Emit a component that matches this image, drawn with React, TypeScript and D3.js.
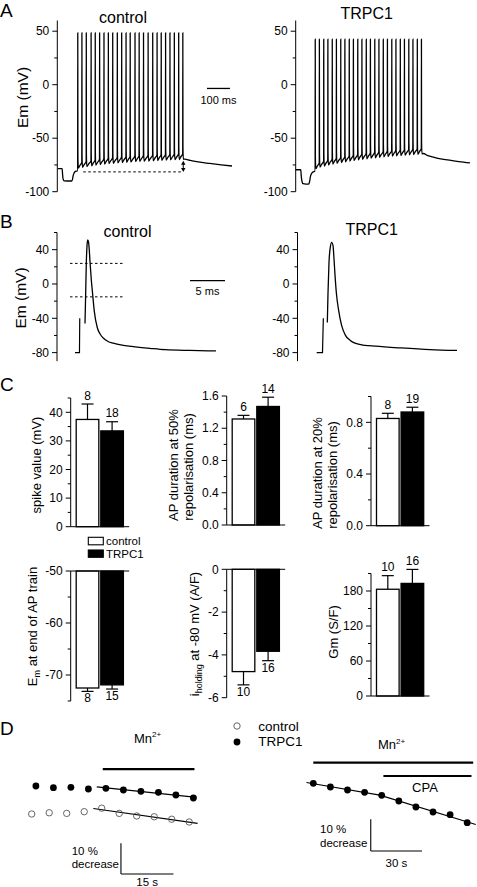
import React from 'react';
import * as d3 from 'd3';

const FONT = "'Liberation Sans', Arial, Helvetica, sans-serif";

// ---------------- Panel A: AP trains (time ms, Em mV) ----------------
const aCtlPre: [number, number][] = [[0, -78.5], [18, -78.5], [20, -84], [22, -88], [26, -89.8], [60, -90], [63, -88.5], [66, -85], [70, -82.5], [76, -81], [84, -80.5]];
const aCtlSpikeTimes = [86, 104, 123, 144, 162, 181, 200, 219, 238, 258, 277, 296, 314, 335, 353, 372, 392, 412, 431, 449, 468, 487, 506, 525, 543];
const aCtlPeak = 48.5;
const aCtlTroughs = [-78, -77.2, -76.5, -75.8, -75.2, -74.7, -74.2, -73.8, -73.4, -73.1, -72.8, -72.5, -72.2, -71.9, -71.7, -71.5, -71.3, -71.1, -70.9, -70.7, -70.5, -70.3, -70.1, -69.9, -69.7];
const aCtlPost: [number, number][] = [[551, -69.5], [575, -70.8], [610, -72.2], [660, -73.6], [710, -74.9], [757, -76]];

const aTrpPre: [number, number][] = [[0, -79.5], [22, -79.5], [24, -85], [27, -90], [32, -92.5], [56, -93], [60, -91], [64, -86], [69, -83], [76, -81.5], [83, -81]];
const aTrpSpikeTimes = [85, 103, 122, 140, 159, 177, 196, 214, 233, 251, 270, 288, 307, 325, 344, 362, 381, 399, 418, 436, 455, 473, 492, 510, 529, 547];
const aTrpPeak = 42.5;
const aTrpTroughs = [-78.5, -77, -76, -75, -74.2, -73.4, -72.7, -72, -71.4, -70.8, -70.2, -69.7, -69.2, -68.7, -68.3, -67.9, -67.5, -67.1, -66.8, -66.5, -66.2, -65.9, -65.6, -65.3, -65, -64.7];
const aTrpPost: [number, number][] = [[555, -64.3], [575, -66.3], [610, -68.3], [660, -70.3], [710, -71.8], [758, -73]];

const aMajorTicks = [-100, -50, 0, 50];
const aMinorTicks = [-75, -25, 25];
const aDashLevel = -81.5; // dashed reference line
const aDashRange = [110, 545];
const aArrowTop = -71;

// ---------------- Panel B: single AP (time ms, Em mV) ----------------
const bCtlStim: [number, number][] = [[2.57, -80], [3.21, -80], [3.25, -40]];
const bCtlAP: [number, number][] = [[4.0, -46], [4.1, -10], [4.19, 25], [4.29, 45], [4.39, 51.5], [4.5, 49], [4.61, 40], [4.71, 26.5], [4.9, 5], [5.1, -12.5], [5.33, -32], [5.76, -51], [6.14, -58], [6.61, -63], [7.29, -67], [8.04, -69], [9.29, -71.2], [10.67, -72.7], [13.29, -75], [15.43, -76.6], [19.0, -77.5], [22.71, -78]];
const bTrpStim: [number, number][] = [[2.74, -80], [3.57, -80], [3.69, -40]];
const bTrpAP: [number, number][] = [[4.26, -45], [4.36, -10], [4.5, 25], [4.69, 43], [4.89, 48.5], [5.07, 45], [5.21, 30], [5.36, 10], [5.57, -12], [5.86, -30], [6.29, -48], [6.79, -59], [7.5, -65.5], [8.21, -69], [9.64, -71.5], [11.07, -72.5], [14.64, -74.5], [18.93, -76.5], [22.79, -77.5]];
const bMajorTicks = [-80, -40, 0, 40];
const bMinorTicks = [-60, -20, 20, 60];
const bDashLevels = [24, -15];
const bDashRange = [1.86, 9.43];

// ---------------- Panel C: bar charts ----------------
const groups = ['control', 'TRPC1'];
const spikeMean = [37.5, 33.5];
const spikeErr = [5.4, 3.2];
const spikeN = [8, 18];
const ap50Mean = [1.315, 1.47];
const ap50Err = [0.045, 0.115];
const ap50N = [6, 14];
const ap20Mean = [0.83, 0.88];
const ap20Err = [0.04, 0.037];
const ap20N = [8, 19];
const emMean = [-72.5, -71.9];
const emErr = [0.65, 0.8];
const emN = [8, 15];
const ihMean = [-4.78, -3.83];
const ihErr = [0.62, 0.44];
const ihN = [10, 16];
const gmMean = [183, 193];
const gmErr = [23.3, 24];
const gmN = [10, 16];

// ---------------- Panel D: fluorescence quench (time s, % of initial) ----------------
const dCtlTimes = [0, 5, 10, 15, 20, 25, 30, 35, 40, 45];
const dCtlVals = [100, 100.4, 100.2, 100.75, 101.9, 100.2, 99.35, 99.1, 98.3, 97.4];
const dTrpTimes = [1.2, 6.2, 11.2, 16.2, 21.2, 26.2, 31.2, 36.2, 41.2, 46.2];
const dTrpVals = [100, 99.45, 99.58, 99.02, 99.25, 98.7, 98.27, 97.95, 97.07, 96.09];
const dMnFirst = 4;
const dCpaTimes = [0, 10, 20, 30, 40, 50, 60, 70, 80, 90];
const dCpaVals = [100, 98.83, 97.89, 97.16, 96.21, 94.42, 92.52, 90.95, 90.09, 87.57];
const dCpaKneeIdx = 4;

type Pt = [number, number];

function buildTrain(pre: Pt[], times: number[], peak: number, troughs: number[], post: Pt[]): Pt[] {
  const pts: Pt[] = pre.map((p) => [p[0], p[1]] as Pt);
  let thr = pre[pre.length - 1][1];
  times.forEach((t, i) => {
    const tr = troughs[i];
    pts.push([t - 0.5, thr]);
    pts.push([t, peak]);
    pts.push([t + 0.6, tr + 12]);
    pts.push([t + 2.2, tr]);
    const next = times[i + 1];
    if (next !== undefined) {
      pts.push([t + (next - t) * 0.5, tr + 2.5]);
      thr = tr + 5.5;
    }
  });
  return pts.concat(post);
}

function fit(ts: number[], vs: number[]) {
  const mt = d3.mean(ts) as number;
  const mv = d3.mean(vs) as number;
  let sxy = 0, sxx = 0;
  ts.forEach((t, i) => { sxy += (t - mt) * (vs[i] - mv); sxx += (t - mt) * (t - mt); });
  const slope = sxy / sxx;
  return { slope, at: (t: number) => mv + slope * (t - mt), mt, mv };
}

const fmtInt = (v: number) => String(v);
const fmt1 = (v: number) => v.toFixed(1);

function YAxis(props: { x: number; y: d3.ScaleLinear<number, number>; y0: number; y1: number; major: number[]; minor: number[]; fmt: (v: number) => string; fs?: number }) {
  const { x, y, y0, y1, major, minor, fmt } = props;
  const fs = props.fs ?? 12;
  return (
    <g>
      <line x1={x} x2={x} y1={y(y0)} y2={y(y1)} stroke="#000" strokeWidth={1} />
      {major.map((v) => (
        <g key={'M' + v}>
          <line x1={x - 5} x2={x} y1={y(v)} y2={y(v)} stroke="#000" strokeWidth={1} />
          <text x={x - 8} y={y(v)} dy="0.35em" textAnchor="end" fontSize={fs}>{fmt(v)}</text>
        </g>
      ))}
      {minor.map((v) => (
        <line key={'m' + v} x1={x - 3} x2={x} y1={y(v)} y2={y(v)} stroke="#000" strokeWidth={1} />
      ))}
    </g>
  );
}

function RotLabel({ x, cy, children, fs = 13 }: { x: number; cy: number; children: React.ReactNode; fs?: number }) {
  return (
    <text x={x} y={cy} transform={`rotate(-90 ${x} ${cy})`} textAnchor="middle" fontSize={fs}>{children}</text>
  );
}

function BarPanel(props: {
  axisX: number; y: d3.ScaleLinear<number, number>; d0: number; d1: number; base: number;
  major: number[]; minor: number[]; fmt: (v: number) => string;
  means: number[]; errs: number[]; ns: number[];
}) {
  const { axisX, y, d0, d1, base, major, minor, fmt, means, errs, ns } = props;
  const xb = d3.scaleBand<string>().domain(groups).range([axisX + 5.5, axisX + 52.7]).paddingInner(0.08);
  const bw = xb.bandwidth();
  return (
    <g>
      {groups.map((g, i) => {
        const m = means[i];
        const dir = m >= base ? 1 : -1;
        const e = m + dir * errs[i];
        const cx = (xb(g) as number) + bw / 2;
        const top = Math.min(y(base), y(m));
        const h = Math.abs(y(base) - y(m));
        return (
          <g key={g}>
            <line x1={cx} x2={cx} y1={y(m)} y2={y(e)} stroke="#000" strokeWidth={1.2} />
            <line x1={cx - 6} x2={cx + 6} y1={y(e)} y2={y(e)} stroke="#000" strokeWidth={1.2} />
            <rect x={xb(g)} y={top} width={bw} height={h} fill={i === 0 ? '#fff' : '#000'} stroke="#000" strokeWidth={1.3} />
            <text x={cx} y={dir > 0 ? y(e) - 4.5 : y(e) + 11} textAnchor="middle" fontSize={12}>{ns[i]}</text>
          </g>
        );
      })}
      <line x1={axisX} x2={axisX + 58.5} y1={y(base)} y2={y(base)} stroke="#000" strokeWidth={1} />
      <YAxis x={axisX} y={y} y0={d0} y1={d1} major={major} minor={minor} fmt={fmt} />
    </g>
  );
}

export default function App() {
  // Panel A scales
  const aY = d3.scaleLinear().domain([-100, 60]).range([191.7, 20.5]);
  const aXc = d3.scaleLinear().domain([0, 760]).range([58, 232.7]);
  const aXt = d3.scaleLinear().domain([0, 760]).range([295.7, 470.4]);
  const lineC = d3.line<Pt>().x((d) => aXc(d[0])).y((d) => aY(d[1])).curve(d3.curveMonotoneX);
  const lineT = d3.line<Pt>().x((d) => aXt(d[0])).y((d) => aY(d[1])).curve(d3.curveMonotoneX);
  const ctlTrain = buildTrain(aCtlPre, aCtlSpikeTimes, aCtlPeak, aCtlTroughs, aCtlPost);
  const trpTrain = buildTrain(aTrpPre, aTrpSpikeTimes, aTrpPeak, aTrpTroughs, aTrpPost);

  // Panel B scales
  const bY = d3.scaleLinear().domain([-90, 60]).range([361.2, 232.5]);
  const bXc = d3.scaleLinear().domain([0, 23]).range([57, 218]);
  const bXt = d3.scaleLinear().domain([0, 23]).range([297.5, 458.5]);
  const bLineC = d3.line<Pt>().x((d) => bXc(d[0])).y((d) => bY(d[1])).curve(d3.curveMonotoneX);
  const bLineT = d3.line<Pt>().x((d) => bXt(d[0])).y((d) => bY(d[1])).curve(d3.curveMonotoneX);
  const bLinC = d3.line<Pt>().x((d) => bXc(d[0])).y((d) => bY(d[1]));
  const bLinT = d3.line<Pt>().x((d) => bXt(d[0])).y((d) => bY(d[1]));

  // Panel C scales
  const c1Y = d3.scaleLinear().domain([0, 45]).range([526.7, 398]);
  const c2Y = d3.scaleLinear().domain([0, 1.6]).range([525, 396]);
  const c3Y = d3.scaleLinear().domain([0, 1.0]).range([525.7, 396.5]);
  const c4Y = d3.scaleLinear().domain([-75, -50]).range([701, 571]);
  const c5Y = d3.scaleLinear().domain([-6, 0]).range([697.7, 569.3]);
  const c6Y = d3.scaleLinear().domain([0, 210]).range([696, 573.5]);

  // Panel D scales
  const dLx = d3.scaleLinear().domain([0, 50]).range([31.7, 206.7]);
  const dLyT = d3.scaleLinear().domain([100, 90]).range([786, 816.7]);
  const dLyC = d3.scaleLinear().domain([100, 90]).range([814, 844.7]);
  const dRx = d3.scaleLinear().domain([0, 100]).range([313.3, 484.3]);
  const dRy = d3.scaleLinear().domain([100, 90]).range([783.3, 815]);

  const fitT = fit(dTrpTimes.slice(dMnFirst), dTrpVals.slice(dMnFirst));
  const fitC = fit(dCtlTimes.slice(dMnFirst), dCtlVals.slice(dMnFirst));
  const fitR1 = fit(dCpaTimes.slice(0, dCpaKneeIdx + 1), dCpaVals.slice(0, dCpaKneeIdx + 1));
  const fitR2 = fit(dCpaTimes.slice(dCpaKneeIdx), dCpaVals.slice(dCpaKneeIdx));
  const knee = (fitR2.mv - fitR2.slope * fitR2.mt - (fitR1.mv - fitR1.slope * fitR1.mt)) / (fitR1.slope - fitR2.slope);

  const tri = 'M0,0 L-2.2,-4 L2.2,-4 Z';

  return (
    <svg width={477} height={887} style={{ position: 'absolute', left: 0, top: 0, background: '#fff' }} fontFamily={FONT}>
      <rect x={0} y={0} width={477} height={887} fill="#fff" />
      {/* ===== A ===== */}
      <text x={0} y={16.7} fontSize={19}>A</text>
      <text x={123} y={23.3} textAnchor="middle" fontSize={16}>control</text>
      <text x={366.7} y={18.5} textAnchor="middle" fontSize={16}>TRPC1</text>
      <RotLabel x={27.5} cy={97.5} fs={15.5}>Em (mV)</RotLabel>
      <YAxis x={57.3} y={aY} y0={-100} y1={60} major={aMajorTicks} minor={aMinorTicks} fmt={fmtInt} />
      <YAxis x={295.7} y={aY} y0={-100} y1={60} major={aMajorTicks} minor={aMinorTicks} fmt={fmtInt} />
      <path d={lineC(ctlTrain) as string} fill="none" stroke="#000" strokeWidth={1.3} />
      <path d={lineT(trpTrain) as string} fill="none" stroke="#000" strokeWidth={1.3} />
      <line x1={aXc(aDashRange[0])} x2={aXc(aDashRange[1])} y1={aY(aDashLevel)} y2={aY(aDashLevel)} stroke="#000" strokeWidth={1} strokeDasharray="2.5,2.5" />
      <line x1={aXc(aDashRange[1])} x2={aXc(aDashRange[1])} y1={aY(aArrowTop) + 3} y2={aY(aDashLevel) - 3} stroke="#000" strokeWidth={1} />
      <path d={tri} transform={`translate(${aXc(aDashRange[1])},${aY(aDashLevel)})`} fill="#000" />
      <path d={tri} transform={`translate(${aXc(aDashRange[1])},${aY(aArrowTop)}) rotate(180)`} fill="#000" />
      <line x1={aXc(648)} x2={aXc(748)} y1={aY(-3.5)} y2={aY(-3.5)} stroke="#000" strokeWidth={1.3} />
      <text x={aXc(698)} y={104} textAnchor="middle" fontSize={11}>100 ms</text>

      {/* ===== B ===== */}
      <text x={0} y={228.3} fontSize={19}>B</text>
      <text x={127.5} y={236.7} textAnchor="middle" fontSize={16}>control</text>
      <text x={371.7} y={235} textAnchor="middle" fontSize={16}>TRPC1</text>
      <RotLabel x={26} cy={298} fs={15.5}>Em (mV)</RotLabel>
      <YAxis x={57} y={bY} y0={-90} y1={60} major={bMajorTicks} minor={bMinorTicks} fmt={fmtInt} />
      <YAxis x={297.5} y={bY} y0={-90} y1={60} major={bMajorTicks} minor={bMinorTicks} fmt={fmtInt} />
      <path d={bLinC(bCtlStim) as string} fill="none" stroke="#000" strokeWidth={1.2} />
      <path d={bLineC(bCtlAP) as string} fill="none" stroke="#000" strokeWidth={1.3} />
      <path d={bLinT(bTrpStim) as string} fill="none" stroke="#000" strokeWidth={1.2} />
      <path d={bLineT(bTrpAP) as string} fill="none" stroke="#000" strokeWidth={1.3} />
      {bDashLevels.map((v) => (
        <line key={v} x1={bXc(bDashRange[0])} x2={bXc(bDashRange[1])} y1={bY(v)} y2={bY(v)} stroke="#000" strokeWidth={1} strokeDasharray="2.5,2.5" />
      ))}
      <line x1={bXc(19)} x2={bXc(24)} y1={bY(3.8)} y2={bY(3.8)} stroke="#000" strokeWidth={1.3} />
      <text x={bXc(21.5)} y={295} textAnchor="middle" fontSize={11}>5 ms</text>

      {/* ===== C ===== */}
      <text x={0} y={391} fontSize={19}>C</text>
      <BarPanel axisX={70.7} y={c1Y} d0={0} d1={45} base={0} major={[0, 10, 20, 30, 40]} minor={[5, 15, 25, 35, 45]} fmt={fmtInt} means={spikeMean} errs={spikeErr} ns={spikeN} />
      <RotLabel x={41} cy={465}>spike value (mV)</RotLabel>
      <BarPanel axisX={226.7} y={c2Y} d0={0} d1={1.6} base={0} major={[0, 0.4, 0.8, 1.2, 1.6]} minor={[0.2, 0.6, 1.0, 1.4]} fmt={fmt1} means={ap50Mean} errs={ap50Err} ns={ap50N} />
      <RotLabel x={178} cy={465}>AP duration at 50%</RotLabel>
      <RotLabel x={192.5} cy={467}>repolarisation (ms)</RotLabel>
      <BarPanel axisX={371} y={c3Y} d0={0} d1={1.0} base={0} major={[0, 0.4, 0.8]} minor={[0.2, 0.6, 1.0]} fmt={fmt1} means={ap20Mean} errs={ap20Err} ns={ap20N} />
      <RotLabel x={321.5} cy={473}>AP duration at 20%</RotLabel>
      <RotLabel x={337} cy={475}>repolarisation (ms)</RotLabel>

      {/* legend */}
      <rect x={88.3} y={537.3} width={15} height={7.5} fill="#fff" stroke="#000" strokeWidth={1.1} />
      <text x={106} y={545} fontSize={11.5}>control</text>
      <rect x={88.3} y={550} width={15} height={7.3} fill="#000" stroke="#000" strokeWidth={1.1} />
      <text x={106} y={558} fontSize={11.5}>TRPC1</text>

      <BarPanel axisX={70.7} y={c4Y} d0={-75} d1={-50} base={-50} major={[-70, -60, -50]} minor={[-75, -65, -55]} fmt={fmtInt} means={emMean} errs={emErr} ns={emN} />
      <RotLabel x={36.5} cy={626.5}>E<tspan fontSize={9} dy={3}>m</tspan><tspan dy={-3}> at end of AP train</tspan></RotLabel>
      <BarPanel axisX={226.7} y={c5Y} d0={-6} d1={0} base={0} major={[-6, -4, -2, 0]} minor={[-5, -3, -1]} fmt={fmtInt} means={ihMean} errs={ihErr} ns={ihN} />
      <RotLabel x={199} cy={634}>i<tspan fontSize={9} dy={3}>holding</tspan><tspan dy={-3}> at -80 mV (A/F)</tspan></RotLabel>
      <BarPanel axisX={371} y={c6Y} d0={0} d1={210} base={0} major={[0, 60, 120, 180]} minor={[30, 90, 150, 210]} fmt={fmtInt} means={gmMean} errs={gmErr} ns={gmN} />
      <RotLabel x={338} cy={632}>Gm (S/F)</RotLabel>

      {/* ===== D ===== */}
      <text x={0} y={735} fontSize={19}>D</text>
      <circle cx={237} cy={726} r={3.2} fill="#fff" stroke="#555" strokeWidth={0.9} />
      <circle cx={237} cy={742} r={3.4} fill="#000" />
      <text x={258.3} y={731} fontSize={13.5}>control</text>
      <text x={258.3} y={746} fontSize={13.5}>TRPC1</text>

      {/* left */}
      <text x={dLx(33.1)} y={742.7} textAnchor="middle" fontSize={13}>Mn<tspan fontSize={8} dy={-5.5}>2+</tspan></text>
      <line x1={dLx(20.3)} x2={dLx(46.5)} y1={dLyT(105.5)} y2={dLyT(105.5)} stroke="#000" strokeWidth={2.2} />
      <line x1={dLx(18.6)} x2={dLx(47.1)} y1={dLyT(fitT.at(18.6))} y2={dLyT(fitT.at(47.1))} stroke="#000" strokeWidth={1.1} />
      <line x1={dLx(17.6)} x2={dLx(47.4)} y1={dLyC(fitC.at(17.6))} y2={dLyC(fitC.at(47.4))} stroke="#000" strokeWidth={1.1} />
      {dTrpTimes.map((t, i) => (
        <circle key={'t' + i} cx={dLx(t)} cy={dLyT(dTrpVals[i])} r={3.4} fill="#000" />
      ))}
      {dCtlTimes.map((t, i) => (
        <circle key={'c' + i} cx={dLx(t)} cy={dLyC(dCtlVals[i])} r={3.2} fill="#fff" fillOpacity={0} stroke="#555" strokeWidth={0.9} />
      ))}
      <line x1={dLx(25.5)} x2={dLx(25.5)} y1={dLyT(81.34)} y2={dLyT(71.34)} stroke="#000" strokeWidth={1.1} />
      <line x1={dLx(25.5)} x2={dLx(40.5)} y1={dLyT(71.34)} y2={dLyT(71.34)} stroke="#000" strokeWidth={1.1} />
      <text x={71.7} y={855} fontSize={11.5}>10 %</text>
      <text x={71.7} y={868.3} fontSize={11.5}>decrease</text>
      <text x={dLx(33)} y={886} textAnchor="middle" fontSize={11.5}>15 s</text>

      {/* right */}
      <text x={dRx(45.8)} y={749.3} textAnchor="middle" fontSize={13}>Mn<tspan fontSize={8} dy={-5.5}>2+</tspan></text>
      <line x1={dRx(0)} x2={dRx(93.5)} y1={dRy(106.5)} y2={dRy(106.5)} stroke="#000" strokeWidth={2.2} />
      <line x1={dRx(41)} x2={dRx(92.5)} y1={dRy(102.3)} y2={dRy(102.3)} stroke="#000" strokeWidth={2.2} />
      <text x={dRx(65.3)} y={791.7} textAnchor="middle" fontSize={13}>CPA</text>
      <line x1={dRx(-4)} x2={dRx(knee)} y1={dRy(fitR1.at(-4))} y2={dRy(fitR1.at(knee))} stroke="#000" strokeWidth={1.1} />
      <line x1={dRx(knee)} x2={dRx(95)} y1={dRy(fitR2.at(knee))} y2={dRy(fitR2.at(95))} stroke="#000" strokeWidth={1.1} />
      {dCpaTimes.map((t, i) => (
        <circle key={'r' + i} cx={dRx(t)} cy={dRy(dCpaVals[i])} r={3.4} fill="#000" />
      ))}
      <line x1={dRx(33.6)} x2={dRx(33.6)} y1={dRy(88.64)} y2={dRy(78.64)} stroke="#000" strokeWidth={1.1} />
      <line x1={dRx(33.6)} x2={dRx(63.6)} y1={dRy(78.64)} y2={dRy(78.64)} stroke="#000" strokeWidth={1.1} />
      <text x={320} y={833.3} fontSize={11.5}>10 %</text>
      <text x={320} y={847.3} fontSize={11.5}>decrease</text>
      <text x={dRx(48.6)} y={867.3} textAnchor="middle" fontSize={11.5}>30 s</text>
    </svg>
  );
}
